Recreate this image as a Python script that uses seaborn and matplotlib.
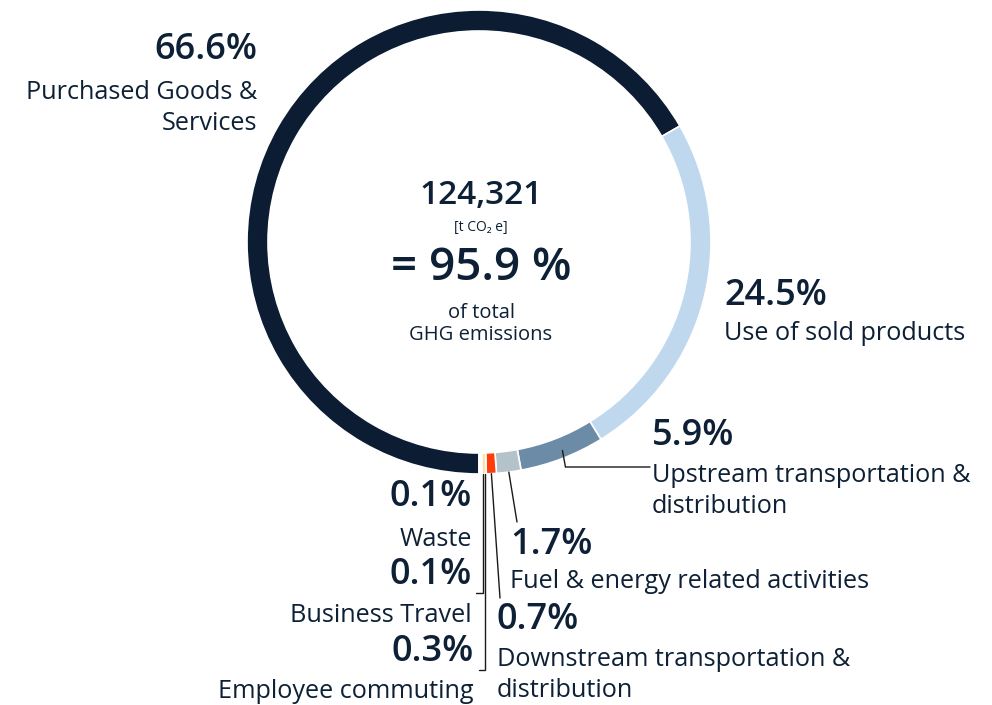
import matplotlib
matplotlib.use("Agg")
import matplotlib.pyplot as plt
import seaborn as sns
import numpy as np

sns.set_theme(style="white")
plt.rcParams["font.family"] = ["Open Sans", "DejaVu Sans"]

# Scope 3 categories, clockwise from the bottom of the ring
categories = [
    "Purchased Goods &\nServices",
    "Use of sold products",
    "Upstream transportation &\ndistribution",
    "Fuel & energy related activities",
    "Downstream transportation &\ndistribution",
    "Employee commuting",
    "Business Travel",
    "Waste",
]
shares = [66.6, 24.5, 5.9, 1.7, 0.7, 0.3, 0.1, 0.1]
colors = ["#0b1c33", "#bfd8ee", "#6b8ba6", "#b4c2c9", "#ff3d0b",
          "#fbe3a0", "#f1ead6", "#e6ecf1"]

total_value = "124,321"
total_share = "95.9"

INK = "#0d2035"
W, H = 992, 705
CX, CY, R, RING = 479, 242, 232, 21


def Y(p):
    return H - p


fig = plt.figure(figsize=(W / 100, H / 100), dpi=100)
ax = fig.add_axes([0, 0, 1, 1])
wedges, _ = ax.pie(
    shares, colors=colors, startangle=-90, counterclock=False,
    radius=R, center=(CX, Y(CY)), frame=True,
    wedgeprops=dict(width=RING, edgecolor="white", linewidth=1.2),
)
ax.set_xlim(0, W)
ax.set_ylim(0, H)
ax.set_aspect("equal")
ax.axis("off")


def rim_point(w):
    a = np.deg2rad((w.theta1 + w.theta2) / 2)
    return CX + R * np.cos(a), Y(CY) + R * np.sin(a)


pct_kw = dict(fontsize=26, fontweight="semibold", color=INK, va="center")
lab_kw = dict(fontsize=18.2, color=INK, va="center", linespacing=1.33)

# Center summary
ax.text(481, Y(195), total_value, ha="center", va="center", fontsize=24,
        fontweight="semibold", color=INK)
ax.text(481, Y(228), "[t CO\u2082 e]", ha="center", va="center", fontsize=10,
        color=INK)
ax.text(481, Y(268), f"= {total_share} %", ha="center", va="center",
        fontsize=33, fontweight="semibold", color=INK)
ax.text(481, Y(324), "of total\nGHG emissions", ha="center", va="center",
        fontsize=14.5, color=INK, linespacing=1.2)

# Large categories
ax.text(257, Y(50), f"{shares[0]}%", ha="right", **pct_kw)
ax.text(257, Y(108), categories[0], ha="right", multialignment="right", **lab_kw)

ax.text(724, Y(296), f"{shares[1]}%", ha="left", **pct_kw)
ax.text(724, Y(334), categories[1], ha="left", **lab_kw)

ax.text(652, Y(436), f"{shares[2]}%", ha="left", **pct_kw)
ax.text(652, Y(491), categories[2], ha="left", **lab_kw)

ax.text(510, Y(545), f"{shares[3]}%", ha="left", **pct_kw)
ax.text(510, Y(582), categories[3], ha="left", **lab_kw)

ax.text(497, Y(620), f"{shares[4]}%", ha="left", **pct_kw)
ax.text(497, Y(675), categories[4], ha="left", **lab_kw)

# Small categories on the left
ax.text(472, Y(497), f"{shares[7]}%", ha="right", **pct_kw)
ax.text(472, Y(539), categories[7], ha="right", **lab_kw)
ax.text(472, Y(575), f"{shares[6]}%", ha="right", **pct_kw)
ax.text(472, Y(615), categories[6], ha="right", **lab_kw)
ax.text(474, Y(652), f"{shares[5]}%", ha="right", **pct_kw)
ax.text(474, Y(691), categories[5], ha="right", **lab_kw)

# Leader lines
line_kw = dict(color="#1a1a1a", lw=1.0, solid_joinstyle="miter")
x0, y0 = rim_point(wedges[2])
ax.plot([x0, x0 + 3, 650], [y0 + 8, Y(467), Y(467)], **line_kw)
x0, y0 = rim_point(wedges[3])
ax.plot([x0, 517], [y0, Y(522)], **line_kw)
x0, y0 = rim_point(wedges[4])
ax.plot([x0, 500], [y0, Y(598)], **line_kw)
x0, y0 = rim_point(wedges[6])
ax.plot([x0 + 1.5, x0 + 1.5, 476], [y0, Y(593), Y(593)], **line_kw)
x0, y0 = rim_point(wedges[5])
ax.plot([x0 + 1, x0 + 1, 479], [y0, Y(670), Y(670)], **line_kw)

fig.savefig("out.png", dpi=100, facecolor="white")
